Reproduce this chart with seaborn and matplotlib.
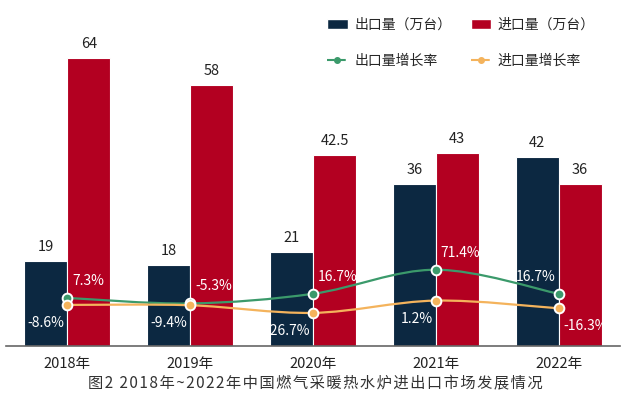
import numpy as np
import pandas as pd
import matplotlib
matplotlib.use("Agg")
import matplotlib.pyplot as plt
from matplotlib.path import Path
from matplotlib.patches import PathPatch, Patch
from matplotlib.lines import Line2D
import seaborn as sns

# data
years = ["2018年", "2019年", "2020年", "2021年", "2022年"]
export_qty = [19, 18, 21, 36, 42]
import_qty = [64, 58, 42.5, 43, 36]
export_growth = [7.3, -5.3, 16.7, 71.4, 16.7]
import_growth = [-8.6, -9.4, -26.7, 1.2, -16.3]
# growth label of exports sits on the left bar only in 2022
export_label_left = [False, False, False, False, True]
caption = "图2 2018年~2022年中国燃气采暖热水炉进出口市场发展情况"

NAVY = "#0c2841"
RED = "#b30021"
GREEN = "#3b9a6b"
ORANGE = "#f4b35c"


def smooth_path(xs, ys) -> Path:
    """Bezier path through the points, Excel-style smoothed line."""
    pts = np.column_stack([np.asarray(xs, float), np.asarray(ys, float)])
    n = len(pts)
    verts = [pts[0]]
    codes = [Path.MOVETO]
    for i in range(n - 1):
        p_prev = pts[i - 1] if i > 0 else pts[i]
        p_next = pts[i + 2] if i + 2 < n else pts[i + 1]
        c1 = pts[i] + (pts[i + 1] - p_prev) / 6
        c2 = pts[i + 1] - (p_next - pts[i]) / 6
        verts += [c1, c2, pts[i + 1]]
        codes += [Path.CURVE4] * 3
    return Path(verts, codes)


def main() -> None:
    sns.set_theme(style="white")
    plt.rcParams["font.family"] = ["Noto Sans CJK SC", "DejaVu Sans"]

    df = pd.DataFrame({
        "year": years * 2,
        "series": ["出口量（万台）"] * len(years) + ["进口量（万台）"] * len(years),
        "qty": export_qty + import_qty,
    })

    fig = plt.figure(figsize=(6.3, 3.99), dpi=100)
    ax = fig.add_axes([6 / 630, 53 / 399, 614 / 630, 315 / 399])

    # bars
    sns.barplot(data=df, x="year", y="qty", hue="series", palette=[NAVY, RED],
                saturation=1, width=0.7, edgecolor="white", linewidth=0.8,
                ax=ax, legend=False)
    ax.set_ylim(0, 70)
    ax.set_xlim(-0.5, len(years) - 0.5)
    for c in ax.containers:
        ax.bar_label(c, labels=[f"{v:g}" for v in c.datavalues], padding=5,
                     fontsize=10.5, color="#222222")

    sns.despine(ax=ax, left=True)
    ax.spines["bottom"].set_color("#666666")
    ax.spines["bottom"].set_linewidth(1.2)
    ax.set_yticks([])
    ax.set_xlabel("")
    ax.set_ylabel("")
    ax.tick_params(axis="x", length=0, pad=8, labelsize=10.5, labelcolor="#222222")

    # growth rates on a hidden second axis
    ax2 = ax.twinx()
    ax2.set_ylim(-102, 614)
    ax2.axis("off")
    x = np.arange(len(years))
    for vals, color in [(export_growth, GREEN), (import_growth, ORANGE)]:
        ax2.add_patch(PathPatch(smooth_path(x, vals), facecolor="none",
                                edgecolor=color, lw=1.6, zorder=2))
        ax2.plot(x, vals, ls="none", marker="o", ms=7, mfc=color,
                 mec="white", mew=1.4, zorder=3)

    for i in range(len(years)):
        left = export_label_left[i]
        ax2.annotate(f"{export_growth[i]:.1f}%", (x[i], export_growth[i]),
                     xytext=(-3 if left else 5, 17), textcoords="offset pixels",
                     ha="right" if left else "left", va="center",
                     fontsize=10, color="white")
        ax2.annotate(f"{import_growth[i]:.1f}%", (x[i], import_growth[i]),
                     xytext=(5 if left else -3, -18), textcoords="offset pixels",
                     ha="left" if left else "right", va="center",
                     fontsize=10, color="white")

    # legend
    handles = [
        Patch(facecolor=NAVY, label="出口量（万台）"),
        Line2D([], [], color=GREEN, ls="--", lw=1.5, marker="o", ms=4, label="出口量增长率"),
        Patch(facecolor=RED, label="进口量（万台）"),
        Line2D([], [], color=ORANGE, ls="--", lw=1.5, marker="o", ms=4, label="进口量增长率"),
    ]
    fig.legend(handles=handles, loc="upper left", bbox_to_anchor=(327 / 630, 1 - 18 / 399),
               ncol=2, frameon=False, fontsize=10, borderpad=0, borderaxespad=0,
               handlelength=1.5, handletextpad=0.45, labelspacing=1.6,
               columnspacing=1.4)

    # caption, letter-spaced with hair spaces (DejaVu fallback)
    fig.text(0.5, 1 - 383 / 399, "\u200a".join(caption),
             ha="center", va="center", fontsize=11, color="#333333")

    fig.savefig("out.png", dpi=100)


if __name__ == "__main__":
    main()
